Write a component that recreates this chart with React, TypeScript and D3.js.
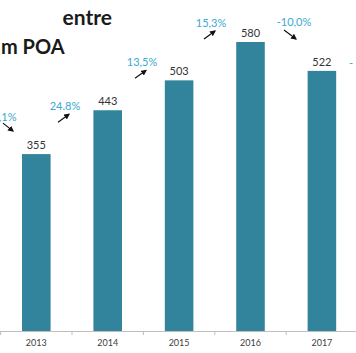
import * as d3 from "d3";
import { useEffect, useRef } from "react";

// data
const years = ["2013", "2014", "2015", "2016", "2017"];
const values = [355, 443, 503, 580, 522];
const changeLabels = ["24.8%", "13,5%", "15,3%", "-10,0%"];
const titleLines = ["entre", "m POA"];

// hand placed annotation offsets (px), as in the original slide
const labelDx = [-7, -1.4, -3.8, 7.8];
const labelDy = [0, -14, -15, -16];

const W = 356;
const H = 353;

const App: React.FC = () => {
    const svgRef = useRef<SVGSVGElement | null>(null);

    useEffect(() => {
        const svg = d3.select(svgRef.current);
        svg.selectAll("*").remove();

        const font = "Lato, 'Open Sans', sans-serif";
        const baseY = 331;

        const x = d3.scaleBand<string>()
            .domain(years)
            .range([0.6, 357.6])
            .paddingInner(0.6)
            .paddingOuter(0.3);

        const y = d3.scaleLinear()
            .domain([0, 600])
            .range([baseY, baseY - 0.4983 * 600]);

        const step = x.step();
        const bw = x.bandwidth();
        const center = (yr: string) => (x(yr) ?? 0) + bw / 2;

        // arrow marker
        svg.append("defs")
            .append("marker")
            .attr("id", "head")
            .attr("viewBox", "0 0 10 10")
            .attr("refX", 8)
            .attr("refY", 5)
            .attr("markerWidth", 5)
            .attr("markerHeight", 5)
            .attr("orient", "auto")
            .append("path")
            .attr("d", "M0,0 L10,5 L0,10 z")
            .attr("fill", "#111");

        // title (cropped on the left in the original)
        const title = svg.append("g")
            .attr("font-family", font)
            .attr("font-weight", "bold")
            .attr("fill", "#1a1a1a");
        title.append("text").attr("x", 112).attr("y", 25)
            .attr("text-anchor", "end").attr("font-size", 21).text(titleLines[0]);
        title.append("text").attr("x", 1).attr("y", 54)
            .attr("font-size", 20).text(titleLines[1]);

        // bars
        svg.append("g")
            .selectAll("rect")
            .data(values)
            .join("rect")
            .attr("x", (_, i) => x(years[i]) ?? 0)
            .attr("y", (d) => y(d))
            .attr("width", bw)
            .attr("height", (d) => baseY - y(d))
            .attr("fill", "#31849B");

        // value labels
        svg.append("g")
            .selectAll("text")
            .data(values)
            .join("text")
            .attr("x", (_, i) => center(years[i]))
            .attr("y", (d) => y(d) - 5)
            .attr("text-anchor", "middle")
            .attr("font-family", font)
            .attr("font-size", 11)
            .attr("fill", "#333")
            .text((d) => d);

        // x axis
        const axis = svg.append("g");
        axis.append("line")
            .attr("x1", 0).attr("x2", W)
            .attr("y1", baseY + 0.5).attr("y2", baseY + 0.5)
            .attr("stroke", "#bfbfbf");
        axis.selectAll("line.tick")
            .data(d3.range(years.length + 1))
            .join("line")
            .attr("class", "tick")
            .attr("x1", (i) => 0.6 + i * step)
            .attr("x2", (i) => 0.6 + i * step)
            .attr("y1", baseY)
            .attr("y2", baseY + 4)
            .attr("stroke", "#bfbfbf");
        axis.selectAll("text")
            .data(years)
            .join("text")
            .attr("x", (d) => center(d))
            .attr("y", 346)
            .attr("text-anchor", "middle")
            .attr("font-family", font)
            .attr("font-size", 9)
            .attr("fill", "#404040")
            .text((d) => d);

        // year-on-year change annotations
        const ann = svg.append("g");
        changeLabels.forEach((lab, i) => {
            const from = years[i];
            const cx = center(from) + step / 2 + labelDx[i];
            const by = y(Math.max(values[i], values[i + 1])) + labelDy[i];
            const up = values[i + 1] >= values[i];
            ann.append("text")
                .attr("x", cx)
                .attr("y", by)
                .attr("text-anchor", "middle")
                .attr("font-family", font)
                .attr("font-size", 11)
                .attr("fill", "#3AA8D0")
                .text(lab);
            const p = up
                ? [cx - 7, by + 12, cx + 4, by + 4]
                : [cx - 10, by + 4, cx + 2, by + 13];
            ann.append("line")
                .attr("x1", p[0]).attr("y1", p[1])
                .attr("x2", p[2]).attr("y2", p[3])
                .attr("stroke", "#111")
                .attr("stroke-width", 1.2)
                .attr("marker-end", "url(#head)");
        });

        // cropped edges: previous and next change labels
        const x0 = x(years[0]) ?? 0;
        ann.append("text")
            .attr("x", x0 - 5.5)
            .attr("y", y(values[0]) - 33)
            .attr("text-anchor", "end")
            .attr("font-family", font)
            .attr("font-size", 11)
            .attr("fill", "#3AA8D0")
            .text(",1%");
        ann.append("line")
            .attr("x1", x0 - 19).attr("y1", y(values[0]) - 31)
            .attr("x2", x0 - 9).attr("y2", y(values[0]) - 23)
            .attr("stroke", "#111")
            .attr("stroke-width", 1.2)
            .attr("marker-end", "url(#head)");
        ann.append("text")
            .attr("x", 349)
            .attr("y", 67)
            .attr("font-family", font)
            .attr("font-size", 11)
            .attr("fill", "#3AA8D0")
            .text("-");
    }, []);

    return (
        <svg
            ref={svgRef}
            width={W}
            height={H}
            style={{ position: "fixed", left: 0, top: 0, background: "#fff", display: "block" }}
        ></svg>
    );
};

export default App;
